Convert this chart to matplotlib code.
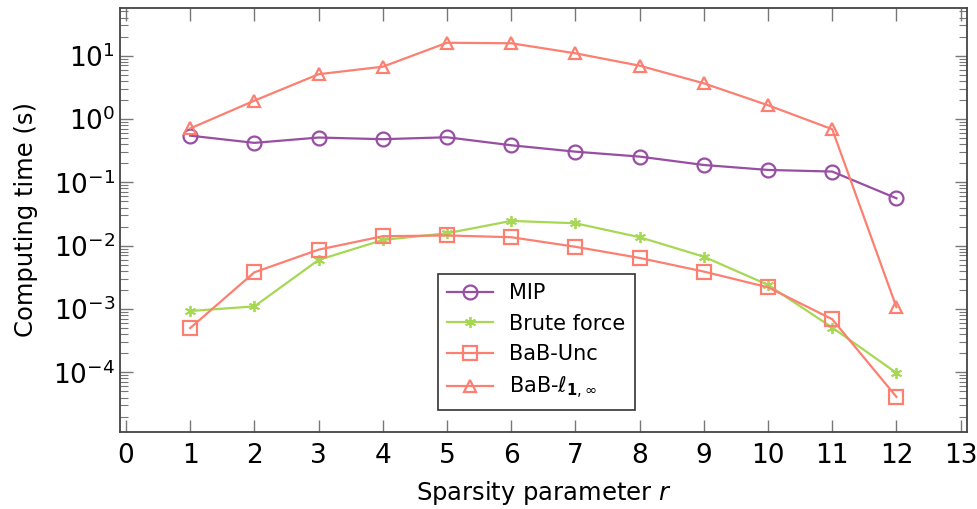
import matplotlib
matplotlib.use("Agg")
import matplotlib.pyplot as plt
from matplotlib.ticker import LogLocator, NullFormatter, FixedLocator, LogFormatterSciNotation

plt.rcParams['font.family'] = ['DejaVu Sans']
plt.rcParams['mathtext.fontset'] = 'dejavusans'

r = [1, 2, 3, 4, 5, 6, 7, 8, 9, 10, 11, 12]
mip = [0.546, 0.42, 0.51, 0.48, 0.515, 0.385, 0.305, 0.255, 0.188, 0.157, 0.148, 0.056]
brute = [9.3e-4, 1.1e-3, 5.96e-3, 0.0123, 0.0157, 0.0246, 0.0226, 0.0136, 6.7e-3, 2.4e-3, 5.1e-4, 9.8e-5]
bab_unc = [5.0e-4, 3.8e-3, 8.65e-3, 0.0141, 0.0145, 0.0136, 0.0096, 0.0064, 3.9e-3, 2.2e-3, 6.9e-4, 4.1e-5]
bab_l1 = [0.71, 1.95, 5.1, 6.7, 16.0, 15.7, 10.9, 6.95, 3.66, 1.65, 0.69, 1.07e-3]
xticks = list(range(0, 14))
yticks = [1e-4, 1e-3, 1e-2, 1e-1, 1e0, 1e1]

c_mip = '#984ea3'
c_brute = '#a6d854'
c_bab = '#fb8072'

fig = plt.figure(figsize=(9.77, 5.09), dpi=100)
ax = fig.add_axes([0.1228, 0.1513, 0.867, 0.833])

ax.plot(r, mip, color=c_mip, marker='o', ms=10, mfc='none', mew=1.6, lw=1.6, label='MIP')
ax.plot(r, brute, color=c_brute, marker=(6, 2, 0), ms=8, mew=1.3, lw=1.6, label='Brute force')
ax.plot(r, bab_unc, color=c_bab, marker='s', ms=10, mfc='none', mew=1.6, lw=1.6, label='BaB-Unc')
ax.plot(r, bab_l1, color=c_bab, marker='^', ms=9, mfc='none', mew=1.6, lw=1.6,
        label=r'BaB-$\ell_{\mathbf{1},\infty}$')

ax.set_yscale('log')
ax.set_xlim(-0.094, 13.1)
ax.set_ylim(10**-4.942, 10**1.753)
ax.xaxis.set_major_locator(FixedLocator(xticks))
ax.yaxis.set_major_locator(FixedLocator(yticks))
ax.yaxis.set_major_formatter(LogFormatterSciNotation())
ax.yaxis.set_minor_locator(LogLocator(base=10, subs=range(2, 10), numticks=20))
ax.yaxis.set_minor_formatter(NullFormatter())

ax.tick_params(which='both', direction='in', top=True, right=True, colors='#777777',
               labelcolor='black', labelsize=19)
ax.tick_params(which='major', length=9, width=1.0)
ax.tick_params(which='minor', length=6, width=0.8)
ax.tick_params(axis='x', pad=8)
for s in ax.spines.values():
    s.set_color('#444444')
    s.set_linewidth(1.3)

ax.set_xlabel(r'Sparsity parameter $r$', fontsize=17.5, labelpad=7)
ax.set_ylabel('Computing time (s)', fontsize=17.5, labelpad=11)

leg = ax.legend(loc='lower left', bbox_to_anchor=(0.375, 0.052), fontsize=15,
                frameon=True, fancybox=False, edgecolor='black', borderaxespad=0,
                handlelength=2.2, handletextpad=0.8, labelspacing=0.5, borderpad=0.45)
leg.get_frame().set_linewidth(1.2)

fig.savefig('out.png', dpi=100)
